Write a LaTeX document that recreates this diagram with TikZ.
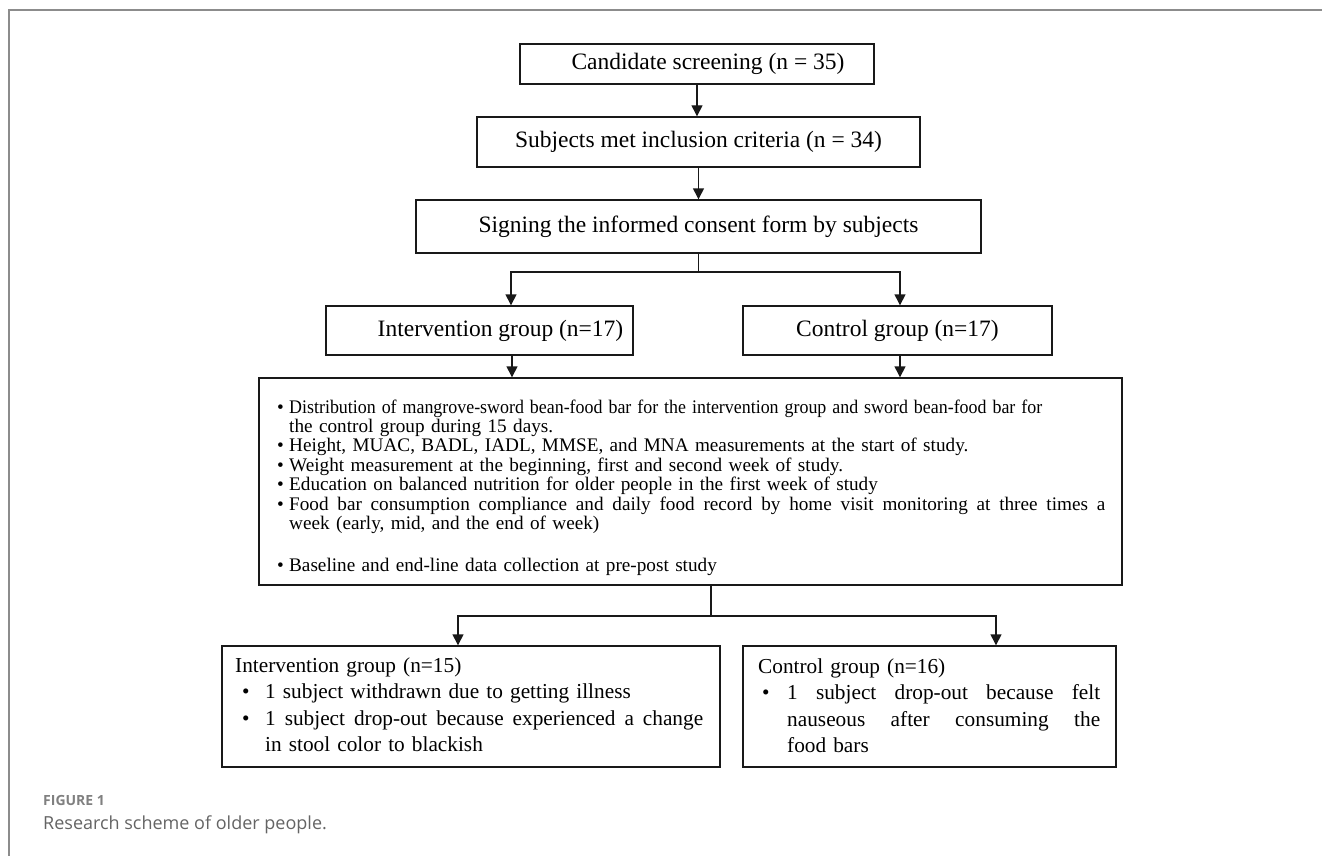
\documentclass[tikz,border=0pt]{standalone}
\usepackage{fontspec}
\usepackage{graphicx}
\setmainfont{Liberation Serif}
\newfontfamily\capfont{Open Sans}
\usetikzlibrary{arrows.meta}
\definecolor{framegray}{RGB}{140,140,140}
\definecolor{figgray}{RGB}{128,128,128}
\definecolor{capgray}{RGB}{100,100,100}
\definecolor{ink}{RGB}{25,25,25}
\begin{document}
\begin{tikzpicture}[x=1pt,y=-1pt,
  box/.style={draw=ink, line width=1.4pt, inner sep=0pt, rectangle},
  toptext/.style={font=\fontsize{23.5}{26}\selectfont},
  conn/.style={draw=ink, line width=1.4pt},
  arr/.style={conn, -{Triangle[length=11pt,width=11pt]}},
  para/.style={anchor=base west, inner sep=0pt, align=left},
]
\useasboundingbox (0,0) rectangle (1322,856);
\draw[draw=framegray, line width=2pt] (9,856) -- (9,10) -- (1322,10);

% boxes
\node[box, toptext, minimum width=354pt, minimum height=40pt] (screen) at (697,64) {\hspace*{22pt}Candidate screening (n = 35)};
\node[box, toptext, minimum width=443pt, minimum height=50pt] (incl) at (698.5,142) {Subjects met inclusion criteria (n = 34)};
\node[box, toptext, minimum width=565pt, minimum height=53pt] (consent) at (698.5,226.5) {Signing the informed consent form by subjects};
\node[box, toptext, minimum width=307pt, minimum height=49pt] (int17) at (479.5,330.5) {\hspace*{42pt}Intervention group (n=17)};
\node[box, toptext, minimum width=309pt, minimum height=49pt] (ctl17) at (897.5,330.5) {Control group (n=17)};
\node[box, minimum width=863pt, minimum height=207pt] (big) at (690.5,481.5) {};
\node[box, minimum width=498pt, minimum height=121pt] (int15) at (471,706.5) {};
\node[box, minimum width=373pt, minimum height=121pt] (ctl16) at (929.5,706.5) {};

% texts inside the large boxes
\node[para, text width=835pt, font=\fontsize{19.2}{19.4}\selectfont] (bigtext) at (277,413) {%
\makebox[12pt][l]{•}\resizebox{753pt}{\height}{Distribution of mangrove-sword bean-food bar for the intervention group and sword bean-food bar for}\\
\hspace*{12pt}the control group during 15 days.\\
\makebox[12pt][l]{•}Height, MUAC, BADL, IADL, MMSE, and MNA measurements at the start of study.\\
\makebox[12pt][l]{•}Weight measurement at the beginning, first and second week of study.\\
\makebox[12pt][l]{•}Education on balanced nutrition for older people in the first week of study\\
\makebox[12pt][l]{•}\makebox[816pt][l]{Food\hfill bar\hfill consumption\hfill compliance\hfill and\hfill daily\hfill food\hfill record\hfill by\hfill home\hfill visit\hfill monitoring\hfill at\hfill three\hfill times\hfill a}\\
\hspace*{12pt}week (early, mid, and the end of week)\\[22.6pt]
\makebox[12pt][l]{•}Baseline and end-line data collection at pre-post study};

\node[para, text width=480pt, font=\fontsize{21.3}{26.5}\selectfont] (int15text) at (235,672) {%
Intervention group (n=15)\\
\hspace*{7pt}\makebox[23pt][l]{•}1 subject withdrawn due to getting illness\\
\hspace*{7pt}\makebox[23pt][l]{•}\makebox[438pt][l]{1\hfill subject\hfill drop-out\hfill because\hfill experienced\hfill a\hfill change}\\
\hspace*{30pt}in stool color to blackish};

\node[para, text width=345pt, font=\fontsize{21.3}{26.5}\selectfont] (ctl16text) at (758,673) {%
Control group (n=16)\\
\hspace*{4pt}\makebox[25pt][l]{•}\makebox[313pt][l]{1\hfill subject\hfill drop-out\hfill because\hfill felt}\\
\hspace*{29pt}\makebox[313pt][l]{nauseous\hfill after\hfill consuming\hfill the}\\
\hspace*{29pt}food bars};

% connectors
\draw[arr] (screen.south) -- (screen.south |- incl.north);
\draw[arr] (incl.south) -- (incl.south |- consent.north);
\coordinate (j1) at (698.5,272);
\draw[conn] (consent.south) -- (j1);
\draw[arr] (j1) -| ([xshift=31.5pt]int17.north);
\draw[arr] (j1) -| ([xshift=2.5pt]ctl17.north);
\draw[arr] ([xshift=32.5pt]int17.south) -- ([xshift=32.5pt]int17.south |- big.north);
\draw[arr] ([xshift=2.5pt]ctl17.south) -- ([xshift=2.5pt]ctl17.south |- big.north);
\coordinate (j2) at (711,616);
\draw[conn] ([xshift=20.5pt]big.south) -- (j2);
\draw[arr] (j2) -| ([xshift=-13pt]int15.north);
\draw[arr] (j2) -| ([xshift=66.5pt]ctl16.north);

% caption
\node[anchor=base west, inner sep=0pt, text=figgray, font=\capfont\bfseries\fontsize{14}{16}\selectfont] (figlabel) at (43,805) {FIGURE 1};
\node[anchor=base west, inner sep=0pt, text=capgray, font=\capfont\fontsize{18}{20}\selectfont] (caption) at (43,829) {Research scheme of older people.};
\end{tikzpicture}
\end{document}
